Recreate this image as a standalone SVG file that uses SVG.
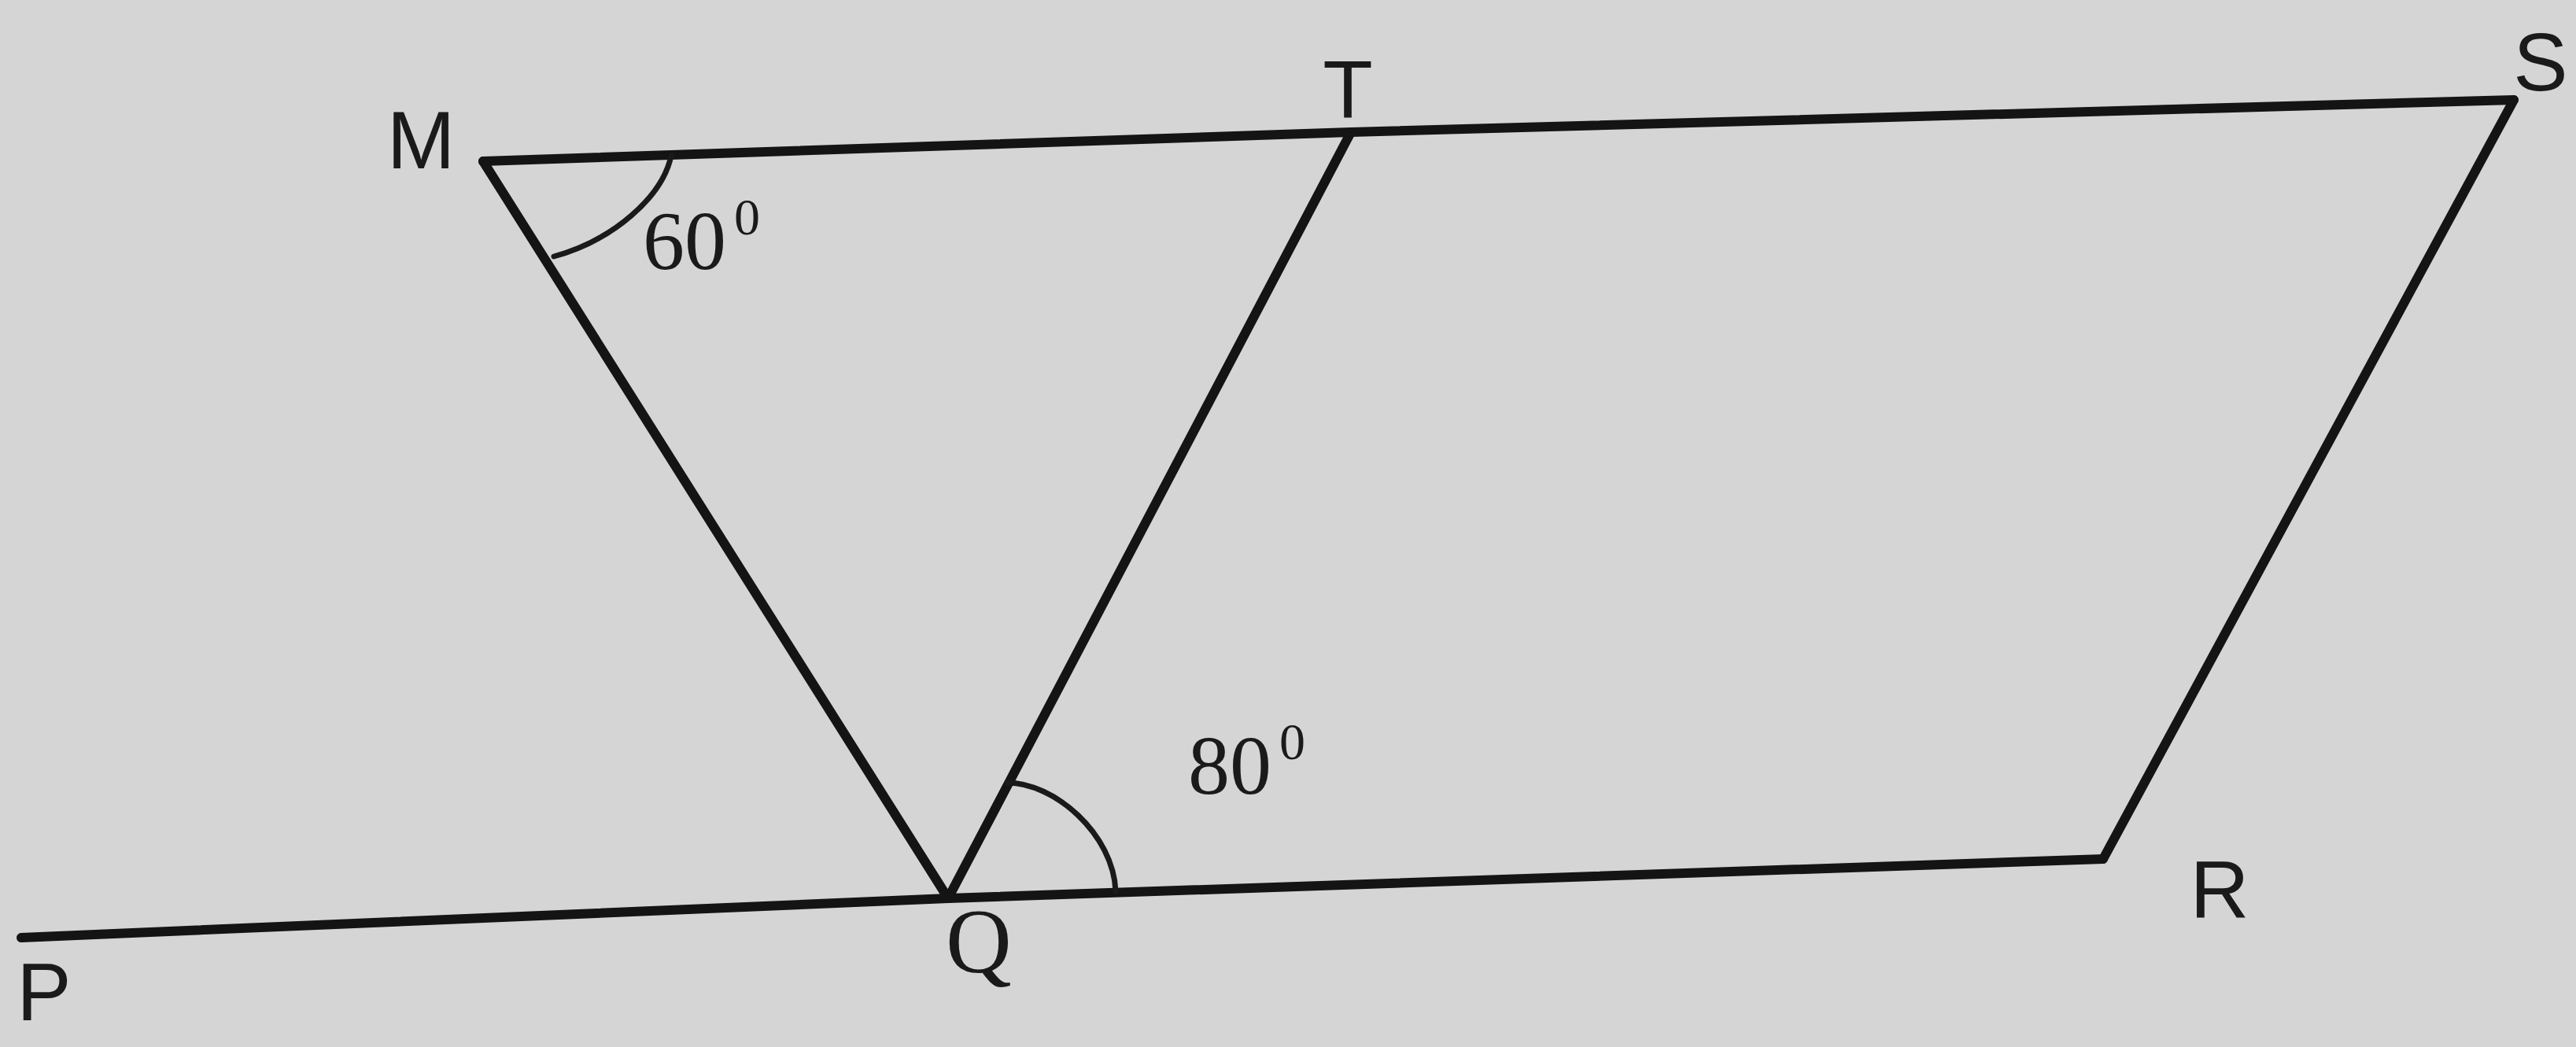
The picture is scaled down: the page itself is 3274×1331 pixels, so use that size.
<svg xmlns="http://www.w3.org/2000/svg" width="3274" height="1331" viewBox="0 0 3274 1331">
<style>
.ln{fill:none;stroke:#141414;stroke-width:12;stroke-linecap:round;stroke-linejoin:round}
.arc{fill:none;stroke:#1a1a1a;stroke-width:7;stroke-linecap:round}
.lbl{font-family:"Liberation Sans","DejaVu Sans",sans-serif;font-size:104px;fill:#1a1a1a;text-anchor:middle}
.ser{font-family:"Liberation Serif","DejaVu Serif",serif;fill:#1a1a1a}
</style>
<rect width="3274" height="1331" fill="#d5d5d5"/>
<g id="connectors">
<polyline class="ln" points="614,205 1717,168 3195,127"/>
<line class="ln" x1="3195" y1="127" x2="2673" y2="1092"/>
<polyline class="ln" points="27,1192 1205,1142 2673,1092"/>
<line class="ln" x1="614" y1="205" x2="1205" y2="1142"/>
<line class="ln" x1="1717" y1="168" x2="1205" y2="1142"/>
</g>
<g id="node-M"><text class="lbl" x="535" y="214">M</text></g>
<g id="node-T"><text class="lbl" x="1713" y="150">T</text></g>
<g id="node-S"><text class="lbl" x="3229" y="115">S</text></g>
<g id="node-R"><text class="lbl" x="2821" y="1167">R</text></g>
<g id="node-P"><text class="lbl" x="56" y="1297">P</text></g>
<g id="node-Q"><text class="ser" x="1244" y="1236" font-size="116" text-anchor="middle">Q</text></g>
<g id="angle-M">
<path class="arc" d="M853,198 C842,250 780,305 704,326"/>
<text class="ser" x="817" y="342" font-size="106">60</text>
<text class="ser" x="933" y="298" font-size="66">0</text>
</g>
<g id="angle-Q">
<path class="arc" d="M1280,995 C1340,995 1415,1060 1418,1133"/>
<text class="ser" x="1510" y="1009" font-size="106">80</text>
<text class="ser" x="1626" y="965" font-size="66">0</text>
</g>
</svg>
